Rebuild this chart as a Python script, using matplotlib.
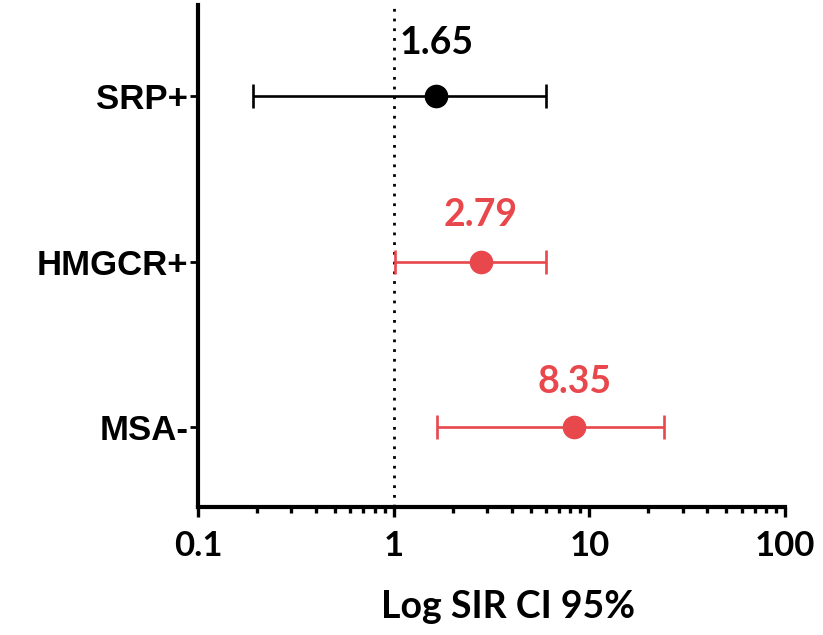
import numpy as np
from matplotlib import pyplot as plt
from matplotlib.ticker import LogLocator, FixedLocator, NullFormatter

# data
groups = ['SRP+', 'HMGCR+', 'MSA-']
sir = [1.65, 2.79, 8.35]
ci_low = [0.19, 1.02, 1.66]
ci_high = [6.0, 6.0, 24.0]
colors = ['black', '#E8474C', '#E8474C']
label_dy = [38, 34, 33]          # offset of value text above the point (pt)
xticks = [0.1, 1, 10, 100]
xticklabels = ['0.1', '1', '10', '100']

fig = plt.figure(figsize=(8.23, 6.35), dpi=100)
ax = fig.add_axes([0.2406, 0.2016, 0.7134, 0.7904])

ypos = np.arange(len(groups))
for y, s, lo, hi, c, dy in zip(ypos, sir, ci_low, ci_high, colors, label_dy):
    ax.errorbar(s, y, xerr=[[s - lo], [hi - s]], fmt='o', color=c,
                ms=16, elinewidth=1.9, capsize=8.5, capthick=1.9)
    ax.annotate('{:.2f}'.format(s), (s, y), xytext=(0, dy), textcoords='offset points',
                ha='center', va='center', color=c, fontsize=27,
                fontweight='bold', family='Lato')

ax.axvline(1, color='black', ls=(0, (1, 2.5)), lw=2, zorder=0)

ax.set_xscale('log')
ax.set_xlim(0.1, 100)
ax.set_ylim(2.48, -0.55)
ax.set_yticks(ypos)
ax.set_yticklabels(groups, fontsize=25, fontweight='bold', family='Liberation Sans')
ax.xaxis.set_major_locator(FixedLocator(xticks))
ax.set_xticklabels(xticklabels, fontsize=25, fontweight='bold', family='Lato')
ax.xaxis.set_minor_locator(LogLocator(base=10, subs=np.arange(2, 10)))
ax.xaxis.set_minor_formatter(NullFormatter())
ax.tick_params(axis='x', which='major', length=7.5, width=2.4, pad=9)
ax.tick_params(axis='x', which='minor', length=4.3, width=2.4)
ax.tick_params(axis='y', length=6, width=2, pad=1)

for side in ['top', 'right']:
    ax.spines[side].set_visible(False)
for side in ['left', 'bottom']:
    ax.spines[side].set_linewidth(3)

ax.set_xlabel('Log SIR CI 95%', fontsize=27, fontweight='bold', family='Lato')
ax.xaxis.set_label_coords(0.528, -0.166)

fig.savefig('out.png', dpi=100)
